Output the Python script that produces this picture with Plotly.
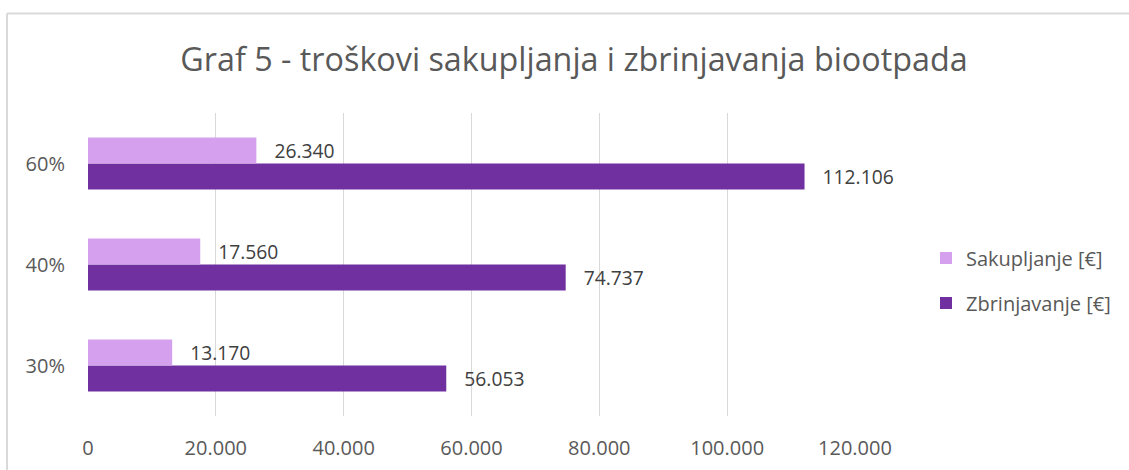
import plotly.graph_objects as go

categories = ["30%", "40%", "60%"]
sakupljanje = [13170, 17560, 26340]
zbrinjavanje = [56053, 74737, 112106]
x_ticks = [0, 20000, 40000, 60000, 80000, 100000, 120000]

W, H = 1129, 470
L, R, T, B = 88, 274, 113, 54
pw, ph = W - L - R, H - T - B

def px(x):
    return (x - L) / pw

def py(y):
    return (H - B - y) / ph

font = "Open Sans"
fig = go.Figure()
fig.add_trace(go.Bar(
    y=categories, x=zbrinjavanje, orientation="h", name="Zbrinjavanje [€]",
    marker=dict(color="#7030A0", line=dict(width=0)),
    text=zbrinjavanje, texttemplate="   %{x:,.0f}", textposition="outside",
    textfont=dict(family=font, size=20, color="#404040"), cliponaxis=False,
    legendgroup="b", legendrank=2,
))
fig.add_trace(go.Bar(
    y=categories, x=sakupljanje, orientation="h", name="Sakupljanje [€]",
    marker=dict(color="#D5A1EE", line=dict(width=0)),
    text=sakupljanje, texttemplate="   %{x:,.0f}", textposition="outside",
    textfont=dict(family=font, size=20, color="#404040"), cliponaxis=False,
    legendgroup="a", legendrank=1,
))

fig.update_layout(
    width=W, height=H, autosize=False,
    margin=dict(l=L, r=R, t=T, b=B, autoexpand=False),
    separators=",.",
    barmode="group", bargap=0.485, bargroupgap=0,
    paper_bgcolor="white", plot_bgcolor="white",
    title=dict(text="Graf 5 - troškovi sakupljanja i zbrinjavanja biootpada",
               x=574 / W, xanchor="center", y=1 - 60 / H, yanchor="middle",
               font=dict(family=font, size=32.3, color="#595959")),
    xaxis=dict(range=[0, 120000], tickvals=x_ticks, tickformat=",.0f",
               showgrid=True, gridcolor="#D9D9D9", gridwidth=1, zeroline=False,
               showline=False, ticklabelstandoff=18, automargin=False,
               tickfont=dict(family=font, size=20, color="#595959")),
    yaxis=dict(showgrid=False, zeroline=False, showline=False,
               ticklabelstandoff=22, automargin=False,
               tickfont=dict(family=font, size=20, color="#595959")),
    legend=dict(x=px(926), xanchor="left", y=py(280.5), yanchor="middle",
                traceorder="grouped", tracegroupgap=16,
                font=dict(family=font, size=20, color="#595959"),
                bgcolor="rgba(0,0,0,0)"),
    font=dict(family=font),
    shapes=[
        dict(type="line", xref="paper", yref="paper", x0=px(7), x1=px(1129),
             y0=py(13.5), y1=py(13.5), line=dict(color="#D9D9D9", width=2)),
        dict(type="line", xref="paper", yref="paper", x0=px(7), x1=px(7),
             y0=py(13.5), y1=py(470), line=dict(color="#D9D9D9", width=2)),
    ],
)

fig.write_html("out.html", config={"displayModeBar": False},
               post_script="document.body.style.margin='0';")
